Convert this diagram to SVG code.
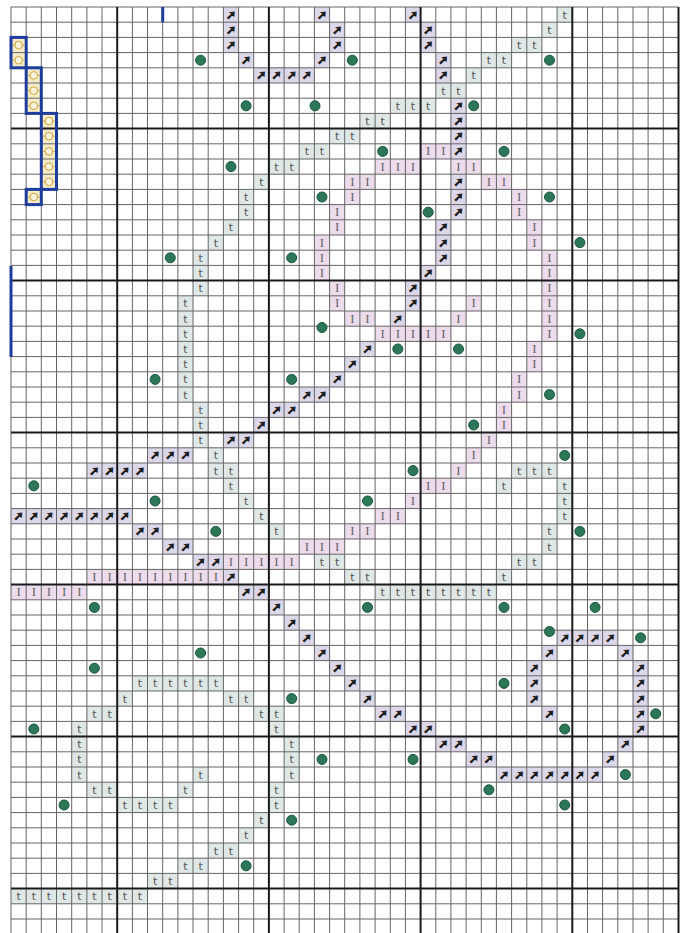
<svg xmlns="http://www.w3.org/2000/svg" xmlns:xlink="http://www.w3.org/1999/xlink" width="689" height="933" viewBox="0 0 689 933">
<style>
.a{fill:#dcd8ea}.i{fill:#eddcec}.t{fill:#dfe8e6}.o{fill:#f4ebc9}
.thin{fill:none;stroke:#656565;stroke-width:1}
.thick{fill:none;stroke:#1a1a1a;stroke-width:2}
.bs{fill:none;stroke:#1d3c9c;stroke-width:3}
.ta{font-family:"DejaVu Sans",sans-serif;font-size:12px;font-weight:bold;fill:#1b1b1b;stroke:#1b1b1b;stroke-width:0.9;text-anchor:middle}
.ti{font-family:"Liberation Serif",serif;font-size:13px;fill:#666;text-anchor:middle}
.tt{font-family:"DejaVu Sans",sans-serif;font-size:11px;fill:#555;text-anchor:middle}
.dot{fill:#2b7757;stroke:#1b5640;stroke-width:1}
</style>
<defs>
<g id="osym"><line x1="-6" y1="0" x2="6" y2="0" stroke="#c9a040" stroke-width="0.8"/><circle r="3.8" fill="#fbf4dc" stroke="#d0a238" stroke-width="1"/></g>
</defs>
<rect width="689" height="933" fill="#fff"/>
<g id="cells" transform="translate(11 7) scale(15.17 15.2)">
<g class="a">
<rect x="14" y="0" width="1" height="3"/><rect x="20" y="0" width="1" height="1"/><rect x="26" y="0" width="1" height="1"/>
<rect x="21" y="1" width="1" height="2"/><rect x="27" y="1" width="1" height="2"/>
<rect x="15" y="3" width="1" height="1"/><rect x="20" y="3" width="1" height="1"/><rect x="28" y="3" width="1" height="2"/>
<rect x="16" y="4" width="4" height="1"/>
<rect x="29" y="6" width="1" height="4"/><rect x="29" y="11" width="1" height="3"/><rect x="28" y="14" width="1" height="3"/>
<rect x="27" y="17" width="1" height="1"/><rect x="26" y="18" width="1" height="2"/><rect x="25" y="20" width="1" height="1"/>
<rect x="23" y="22" width="1" height="1"/><rect x="22" y="23" width="1" height="1"/><rect x="21" y="24" width="1" height="1"/>
<rect x="19" y="25" width="2" height="1"/><rect x="17" y="26" width="2" height="1"/><rect x="16" y="27" width="1" height="1"/>
<rect x="14" y="28" width="2" height="1"/><rect x="9" y="29" width="3" height="1"/><rect x="5" y="30" width="4" height="1"/>
<rect x="0" y="33" width="8" height="1"/><rect x="8" y="34" width="2" height="1"/><rect x="10" y="35" width="2" height="1"/>
<rect x="12" y="36" width="2" height="1"/><rect x="14" y="37" width="1" height="1"/><rect x="15" y="38" width="2" height="1"/>
<rect x="17" y="39" width="1" height="1"/><rect x="18" y="40" width="1" height="1"/><rect x="19" y="41" width="1" height="1"/>
<rect x="36" y="41" width="4" height="1"/><rect x="20" y="42" width="1" height="1"/><rect x="35" y="42" width="1" height="1"/>
<rect x="40" y="42" width="1" height="1"/><rect x="21" y="43" width="1" height="1"/><rect x="34" y="43" width="1" height="3"/>
<rect x="41" y="43" width="1" height="5"/><rect x="22" y="44" width="1" height="1"/><rect x="23" y="45" width="1" height="1"/>
<rect x="24" y="46" width="2" height="1"/><rect x="35" y="46" width="1" height="1"/><rect x="26" y="47" width="2" height="1"/>
<rect x="28" y="48" width="2" height="1"/><rect x="40" y="48" width="1" height="1"/><rect x="30" y="49" width="2" height="1"/>
<rect x="39" y="49" width="1" height="1"/><rect x="32" y="50" width="7" height="1"/>
</g>
<g class="i">
<rect x="27" y="9" width="2" height="1"/><rect x="24" y="10" width="3" height="1"/><rect x="29" y="10" width="2" height="1"/>
<rect x="22" y="11" width="2" height="1"/><rect x="31" y="11" width="2" height="1"/><rect x="22" y="12" width="1" height="1"/>
<rect x="33" y="12" width="1" height="2"/><rect x="21" y="13" width="1" height="2"/><rect x="34" y="14" width="1" height="2"/>
<rect x="20" y="15" width="1" height="3"/><rect x="35" y="16" width="1" height="6"/><rect x="21" y="18" width="1" height="2"/>
<rect x="30" y="19" width="1" height="1"/><rect x="22" y="20" width="2" height="1"/><rect x="29" y="20" width="1" height="1"/>
<rect x="24" y="21" width="5" height="1"/><rect x="34" y="22" width="1" height="2"/><rect x="33" y="24" width="1" height="2"/>
<rect x="32" y="26" width="1" height="2"/><rect x="31" y="28" width="1" height="1"/><rect x="30" y="29" width="1" height="1"/>
<rect x="29" y="30" width="1" height="1"/><rect x="27" y="31" width="2" height="1"/><rect x="26" y="32" width="1" height="1"/>
<rect x="24" y="33" width="2" height="1"/><rect x="22" y="34" width="2" height="1"/><rect x="19" y="35" width="3" height="1"/>
<rect x="14" y="36" width="5" height="1"/><rect x="5" y="37" width="9" height="1"/><rect x="0" y="38" width="5" height="1"/>
</g>
<g class="t">
<rect x="36" y="0" width="1" height="1"/><rect x="35" y="1" width="1" height="1"/><rect x="33" y="2" width="2" height="1"/>
<rect x="31" y="3" width="2" height="1"/><rect x="30" y="4" width="1" height="1"/><rect x="28" y="5" width="2" height="1"/>
<rect x="25" y="6" width="3" height="1"/><rect x="23" y="7" width="2" height="1"/><rect x="21" y="8" width="2" height="1"/>
<rect x="19" y="9" width="2" height="1"/><rect x="17" y="10" width="2" height="1"/><rect x="16" y="11" width="1" height="1"/>
<rect x="15" y="12" width="1" height="2"/><rect x="14" y="14" width="1" height="1"/><rect x="13" y="15" width="1" height="1"/>
<rect x="12" y="16" width="1" height="3"/><rect x="11" y="19" width="1" height="7"/><rect x="12" y="26" width="1" height="3"/>
<rect x="13" y="29" width="1" height="2"/><rect x="14" y="30" width="1" height="2"/><rect x="33" y="30" width="3" height="1"/>
<rect x="32" y="31" width="1" height="1"/><rect x="36" y="31" width="1" height="3"/><rect x="15" y="32" width="1" height="1"/>
<rect x="16" y="33" width="1" height="1"/><rect x="17" y="34" width="1" height="1"/><rect x="35" y="34" width="1" height="2"/>
<rect x="20" y="36" width="2" height="1"/><rect x="33" y="36" width="2" height="1"/><rect x="22" y="37" width="2" height="1"/>
<rect x="32" y="37" width="1" height="1"/><rect x="24" y="38" width="8" height="1"/>
<rect x="8" y="44" width="6" height="1"/><rect x="7" y="45" width="1" height="1"/><rect x="14" y="45" width="2" height="1"/>
<rect x="5" y="46" width="2" height="1"/><rect x="16" y="46" width="2" height="1"/><rect x="4" y="47" width="1" height="4"/>
<rect x="17" y="47" width="1" height="1"/><rect x="18" y="48" width="1" height="3"/><rect x="12" y="50" width="1" height="1"/>
<rect x="5" y="51" width="2" height="1"/><rect x="11" y="51" width="1" height="1"/><rect x="17" y="51" width="1" height="2"/>
<rect x="7" y="52" width="4" height="1"/><rect x="16" y="53" width="1" height="1"/><rect x="15" y="54" width="1" height="1"/>
<rect x="13" y="55" width="2" height="1"/><rect x="11" y="56" width="2" height="1"/><rect x="9" y="57" width="2" height="1"/>
<rect x="0" y="58" width="9" height="1"/>
</g>
<g class="o">
<rect x="0" y="2" width="1" height="2"/><rect x="1" y="4" width="1" height="3"/><rect x="2" y="7" width="1" height="5"/><rect x="1" y="12" width="1" height="1"/>
</g>
</g>
<g id="grid">
<path class="thin" d="M11 7V933M26.2 7V933M41.3 7V933M56.5 7V933M71.7 7V933M86.9 7V933M102 7V933M132.4 7V933M147.5 7V933M162.7 7V933M177.9 7V933M193 7V933M208.2 7V933M223.4 7V933M238.6 7V933M253.7 7V933M284.1 7V933M299.2 7V933M314.4 7V933M329.6 7V933M344.7 7V933M359.9 7V933M375.1 7V933M390.3 7V933M405.4 7V933M435.8 7V933M450.9 7V933M466.1 7V933M481.3 7V933M496.4 7V933M511.6 7V933M526.8 7V933M541.9 7V933M557.1 7V933M587.5 7V933M602.6 7V933M617.8 7V933M633 7V933M648.1 7V933M663.3 7V933
M11 7H678.5M11 22.2H678.5M11 37.4H678.5M11 52.6H678.5M11 67.8H678.5M11 83H678.5M11 98.2H678.5M11 113.4H678.5M11 143.8H678.5M11 159H678.5M11 174.2H678.5M11 189.4H678.5M11 204.6H678.5M11 219.8H678.5M11 235H678.5M11 250.2H678.5M11 265.4H678.5M11 295.8H678.5M11 311H678.5M11 326.2H678.5M11 341.4H678.5M11 356.6H678.5M11 371.8H678.5M11 387H678.5M11 402.2H678.5M11 417.4H678.5M11 447.8H678.5M11 463H678.5M11 478.2H678.5M11 493.4H678.5M11 508.6H678.5M11 523.8H678.5M11 539H678.5M11 554.2H678.5M11 569.4H678.5M11 599.8H678.5M11 615H678.5M11 630.2H678.5M11 645.4H678.5M11 660.6H678.5M11 675.8H678.5M11 691H678.5M11 706.2H678.5M11 721.4H678.5M11 751.8H678.5M11 767H678.5M11 782.2H678.5M11 797.4H678.5M11 812.6H678.5M11 827.8H678.5M11 843H678.5M11 858.2H678.5M11 873.4H678.5M11 903.8H678.5M11 919H678.5"/>
<path class="thick" d="M117.2 7V933M268.9 7V933M420.6 7V933M572.3 7V933M678.5 7V933M11 128.6H678.5M11 280.6H678.5M11 432.6H678.5M11 584.6H678.5M11 736.6H678.5M11 888.6H678.5"/>
</g>
<g id="osymbols">
<use href="#osym" x="18.6" y="45"/><use href="#osym" x="18.6" y="60.2"/>
<use href="#osym" x="33.8" y="75.4"/><use href="#osym" x="33.8" y="90.6"/><use href="#osym" x="33.8" y="105.8"/>
<use href="#osym" x="48.9" y="121"/><use href="#osym" x="48.9" y="136.2"/><use href="#osym" x="48.9" y="151.4"/><use href="#osym" x="48.9" y="166.6"/><use href="#osym" x="48.9" y="181.8"/>
<use href="#osym" x="33.8" y="197"/>
</g>
<g id="backstitch">
<rect class="bs" x="11" y="37.4" width="15.2" height="30.4"/>
<rect class="bs" x="26.2" y="67.8" width="15.1" height="45.6"/>
<rect class="bs" x="41.3" y="113.4" width="15.2" height="76"/>
<rect class="bs" x="26.2" y="189.4" width="15.1" height="15.2"/>
<line class="bs" x1="162.7" y1="7" x2="162.7" y2="22.2"/>
<line class="bs" x1="11" y1="266" x2="11" y2="357" stroke-width="2.5"/>
</g>
<g id="arrows" class="ta">
<text x="231" y="18.5">➚</text><text x="322" y="18.5">➚</text><text x="413" y="18.5">➚</text>
<text x="231" y="33.7">➚</text><text x="337.2" y="33.7">➚</text><text x="428.2" y="33.7">➚</text>
<text x="231" y="48.9">➚</text><text x="337.2" y="48.9">➚</text><text x="428.2" y="48.9">➚</text>
<text x="246.1" y="64.1">➚</text><text x="322" y="64.1">➚</text><text x="443.4" y="64.1">➚</text>
<text x="261.3" y="79.3">➚</text><text x="276.5" y="79.3">➚</text><text x="291.7" y="79.3">➚</text><text x="306.8" y="79.3">➚</text><text x="443.4" y="79.3">➚</text>
<text x="458.5" y="109.7">➚</text><text x="458.5" y="124.9">➚</text><text x="458.5" y="140.1">➚</text><text x="458.5" y="155.3">➚</text>
<text x="458.5" y="185.7">➚</text><text x="458.5" y="200.9">➚</text><text x="458.5" y="216.1">➚</text>
<text x="443.4" y="231.3">➚</text><text x="443.4" y="246.5">➚</text><text x="443.4" y="261.7">➚</text>
<text x="428.2" y="276.9">➚</text><text x="413" y="292.1">➚</text><text x="413" y="307.3">➚</text><text x="397.8" y="322.5">➚</text>
<text x="367.5" y="352.9">➚</text><text x="352.3" y="368.1">➚</text><text x="337.2" y="383.3">➚</text>
<text x="306.8" y="398.5">➚</text><text x="322" y="398.5">➚</text>
<text x="276.5" y="413.7">➚</text><text x="291.7" y="413.7">➚</text>
<text x="261.3" y="428.9">➚</text>
<text x="231" y="444.1">➚</text><text x="246.1" y="444.1">➚</text>
<text x="155.1" y="459.3">➚</text><text x="170.3" y="459.3">➚</text><text x="185.5" y="459.3">➚</text>
<text x="94.4" y="474.5">➚</text><text x="109.6" y="474.5">➚</text><text x="124.8" y="474.5">➚</text><text x="140" y="474.5">➚</text>
<text x="18.6" y="520.1">➚</text><text x="33.8" y="520.1">➚</text><text x="48.9" y="520.1">➚</text><text x="64.1" y="520.1">➚</text><text x="79.3" y="520.1">➚</text><text x="94.4" y="520.1">➚</text><text x="109.6" y="520.1">➚</text><text x="124.8" y="520.1">➚</text>
<text x="140" y="535.3">➚</text><text x="155.1" y="535.3">➚</text>
<text x="170.3" y="550.5">➚</text><text x="185.5" y="550.5">➚</text>
<text x="200.6" y="565.7">➚</text><text x="215.8" y="565.7">➚</text>
<text x="231" y="580.9">➚</text>
<text x="246.1" y="596.1">➚</text><text x="261.3" y="596.1">➚</text>
<text x="276.5" y="611.3">➚</text>
<text x="291.7" y="626.5">➚</text>
<text x="306.8" y="641.7">➚</text><text x="564.7" y="641.7">➚</text><text x="579.9" y="641.7">➚</text><text x="595.1" y="641.7">➚</text><text x="610.2" y="641.7">➚</text>
<text x="322" y="656.9">➚</text><text x="549.5" y="656.9">➚</text><text x="625.4" y="656.9">➚</text>
<text x="337.2" y="672.1">➚</text><text x="534.4" y="672.1">➚</text><text x="640.6" y="672.1">➚</text>
<text x="352.3" y="687.3">➚</text><text x="534.4" y="687.3">➚</text><text x="640.6" y="687.3">➚</text>
<text x="367.5" y="702.5">➚</text><text x="534.4" y="702.5">➚</text><text x="640.6" y="702.5">➚</text>
<text x="382.7" y="717.7">➚</text><text x="397.8" y="717.7">➚</text><text x="549.5" y="717.7">➚</text><text x="640.6" y="717.7">➚</text>
<text x="413" y="732.9">➚</text><text x="428.2" y="732.9">➚</text><text x="640.6" y="732.9">➚</text>
<text x="443.4" y="748.1">➚</text><text x="458.5" y="748.1">➚</text><text x="625.4" y="748.1">➚</text>
<text x="473.7" y="763.3">➚</text><text x="488.9" y="763.3">➚</text><text x="610.2" y="763.3">➚</text>
<text x="504" y="778.5">➚</text><text x="519.2" y="778.5">➚</text><text x="534.4" y="778.5">➚</text><text x="549.5" y="778.5">➚</text><text x="564.7" y="778.5">➚</text><text x="579.9" y="778.5">➚</text><text x="595.1" y="778.5">➚</text>
</g>
<g id="bars" class="ti">
<text x="428.2" y="155.3">I</text><text x="443.4" y="155.3">I</text>
<text x="382.7" y="170.5">I</text><text x="397.8" y="170.5">I</text><text x="413" y="170.5">I</text><text x="458.5" y="170.5">I</text><text x="473.7" y="170.5">I</text>
<text x="352.3" y="185.7">I</text><text x="367.5" y="185.7">I</text><text x="488.9" y="185.7">I</text><text x="504" y="185.7">I</text>
<text x="352.3" y="200.9">I</text><text x="519.2" y="200.9">I</text>
<text x="337.2" y="216.1">I</text><text x="519.2" y="216.1">I</text>
<text x="337.2" y="231.3">I</text><text x="534.4" y="231.3">I</text>
<text x="322" y="246.5">I</text><text x="534.4" y="246.5">I</text>
<text x="322" y="261.7">I</text><text x="549.5" y="261.7">I</text>
<text x="322" y="276.9">I</text><text x="549.5" y="276.9">I</text>
<text x="337.2" y="292.1">I</text><text x="549.5" y="292.1">I</text>
<text x="337.2" y="307.3">I</text><text x="473.7" y="307.3">I</text><text x="549.5" y="307.3">I</text>
<text x="352.3" y="322.5">I</text><text x="367.5" y="322.5">I</text><text x="458.5" y="322.5">I</text><text x="549.5" y="322.5">I</text>
<text x="382.7" y="337.7">I</text><text x="397.8" y="337.7">I</text><text x="413" y="337.7">I</text><text x="428.2" y="337.7">I</text><text x="443.4" y="337.7">I</text><text x="549.5" y="337.7">I</text>
<text x="534.4" y="352.9">I</text><text x="534.4" y="368.1">I</text>
<text x="519.2" y="383.3">I</text><text x="519.2" y="398.5">I</text>
<text x="504" y="413.7">I</text><text x="504" y="428.9">I</text>
<text x="488.9" y="444.1">I</text><text x="473.7" y="459.3">I</text><text x="458.5" y="474.5">I</text>
<text x="428.2" y="489.7">I</text><text x="443.4" y="489.7">I</text>
<text x="413" y="504.9">I</text>
<text x="382.7" y="520.1">I</text><text x="397.8" y="520.1">I</text>
<text x="352.3" y="535.3">I</text><text x="367.5" y="535.3">I</text>
<text x="306.8" y="550.5">I</text><text x="322" y="550.5">I</text><text x="337.2" y="550.5">I</text>
<text x="231" y="565.7">I</text><text x="246.1" y="565.7">I</text><text x="261.3" y="565.7">I</text><text x="276.5" y="565.7">I</text><text x="291.7" y="565.7">I</text>
<text x="94.4" y="580.9">I</text><text x="109.6" y="580.9">I</text><text x="124.8" y="580.9">I</text><text x="140" y="580.9">I</text><text x="155.1" y="580.9">I</text><text x="170.3" y="580.9">I</text><text x="185.5" y="580.9">I</text><text x="200.6" y="580.9">I</text><text x="215.8" y="580.9">I</text>
<text x="18.6" y="596.1">I</text><text x="33.8" y="596.1">I</text><text x="48.9" y="596.1">I</text><text x="64.1" y="596.1">I</text><text x="79.3" y="596.1">I</text>
</g>
<g id="tees" class="tt">
<text x="564.7" y="18.5">t</text><text x="549.5" y="33.7">t</text>
<text x="519.2" y="48.9">t</text><text x="534.4" y="48.9">t</text>
<text x="488.9" y="64.1">t</text><text x="504" y="64.1">t</text>
<text x="473.7" y="79.3">t</text>
<text x="443.4" y="94.5">t</text><text x="458.5" y="94.5">t</text>
<text x="397.8" y="109.7">t</text><text x="413" y="109.7">t</text><text x="428.2" y="109.7">t</text>
<text x="367.5" y="124.9">t</text><text x="382.7" y="124.9">t</text>
<text x="337.2" y="140.1">t</text><text x="352.3" y="140.1">t</text>
<text x="306.8" y="155.3">t</text><text x="322" y="155.3">t</text>
<text x="276.5" y="170.5">t</text><text x="291.7" y="170.5">t</text>
<text x="261.3" y="185.7">t</text>
<text x="246.1" y="200.9">t</text><text x="246.1" y="216.1">t</text>
<text x="231" y="231.3">t</text><text x="215.8" y="246.5">t</text>
<text x="200.6" y="261.7">t</text><text x="200.6" y="276.9">t</text><text x="200.6" y="292.1">t</text>
<text x="185.5" y="307.3">t</text><text x="185.5" y="322.5">t</text><text x="185.5" y="337.7">t</text><text x="185.5" y="352.9">t</text><text x="185.5" y="368.1">t</text><text x="185.5" y="383.3">t</text><text x="185.5" y="398.5">t</text>
<text x="200.6" y="413.7">t</text><text x="200.6" y="428.9">t</text><text x="200.6" y="444.1">t</text>
<text x="215.8" y="459.3">t</text>
<text x="215.8" y="474.5">t</text><text x="231" y="474.5">t</text><text x="519.2" y="474.5">t</text><text x="534.4" y="474.5">t</text><text x="549.5" y="474.5">t</text>
<text x="231" y="489.7">t</text><text x="504" y="489.7">t</text><text x="564.7" y="489.7">t</text>
<text x="246.1" y="504.9">t</text><text x="564.7" y="504.9">t</text>
<text x="261.3" y="520.1">t</text><text x="564.7" y="520.1">t</text>
<text x="276.5" y="535.3">t</text><text x="549.5" y="535.3">t</text>
<text x="549.5" y="550.5">t</text>
<text x="322" y="565.7">t</text><text x="337.2" y="565.7">t</text><text x="519.2" y="565.7">t</text><text x="534.4" y="565.7">t</text>
<text x="352.3" y="580.9">t</text><text x="367.5" y="580.9">t</text><text x="504" y="580.9">t</text>
<text x="382.7" y="596.1">t</text><text x="397.8" y="596.1">t</text><text x="413" y="596.1">t</text><text x="428.2" y="596.1">t</text><text x="443.4" y="596.1">t</text><text x="458.5" y="596.1">t</text><text x="473.7" y="596.1">t</text><text x="488.9" y="596.1">t</text>
<text x="140" y="687.3">t</text><text x="155.1" y="687.3">t</text><text x="170.3" y="687.3">t</text><text x="185.5" y="687.3">t</text><text x="200.6" y="687.3">t</text><text x="215.8" y="687.3">t</text>
<text x="124.8" y="702.5">t</text><text x="231" y="702.5">t</text><text x="246.1" y="702.5">t</text>
<text x="94.4" y="717.7">t</text><text x="109.6" y="717.7">t</text><text x="261.3" y="717.7">t</text><text x="276.5" y="717.7">t</text>
<text x="79.3" y="732.9">t</text><text x="276.5" y="732.9">t</text>
<text x="79.3" y="748.1">t</text><text x="291.7" y="748.1">t</text>
<text x="79.3" y="763.3">t</text><text x="291.7" y="763.3">t</text>
<text x="79.3" y="778.5">t</text><text x="200.6" y="778.5">t</text><text x="291.7" y="778.5">t</text>
<text x="94.4" y="793.7">t</text><text x="109.6" y="793.7">t</text><text x="185.5" y="793.7">t</text><text x="276.5" y="793.7">t</text>
<text x="124.8" y="808.9">t</text><text x="140" y="808.9">t</text><text x="155.1" y="808.9">t</text><text x="170.3" y="808.9">t</text><text x="276.5" y="808.9">t</text>
<text x="261.3" y="824.1">t</text>
<text x="246.1" y="839.3">t</text>
<text x="215.8" y="854.5">t</text><text x="231" y="854.5">t</text>
<text x="185.5" y="869.7">t</text><text x="200.6" y="869.7">t</text>
<text x="155.1" y="884.9">t</text><text x="170.3" y="884.9">t</text>
<text x="18.6" y="900.1">t</text><text x="33.8" y="900.1">t</text><text x="48.9" y="900.1">t</text><text x="64.1" y="900.1">t</text><text x="79.3" y="900.1">t</text><text x="94.4" y="900.1">t</text><text x="109.6" y="900.1">t</text><text x="124.8" y="900.1">t</text><text x="140" y="900.1">t</text>
</g>
<g id="knots" class="dot">
<circle cx="200.6" cy="60.2" r="5"/><circle cx="352.3" cy="60.2" r="5"/><circle cx="549.5" cy="60.2" r="5"/>
<circle cx="246.1" cy="105.8" r="5"/><circle cx="315" cy="105.8" r="5"/><circle cx="473.7" cy="105.8" r="5"/>
<circle cx="382.7" cy="151.4" r="5"/><circle cx="504" cy="151.4" r="5"/><circle cx="231" cy="166.6" r="5"/>
<circle cx="549.5" cy="197" r="5"/><circle cx="322" cy="197" r="5"/><circle cx="428.2" cy="212.2" r="5"/>
<circle cx="579.9" cy="242.6" r="5"/><circle cx="170.3" cy="257.8" r="5"/><circle cx="291.7" cy="257.8" r="5"/>
<circle cx="322" cy="327.5" r="5"/><circle cx="397.8" cy="349" r="5"/><circle cx="458.5" cy="349" r="5"/>
<circle cx="579.9" cy="333.8" r="5"/><circle cx="155.1" cy="379.4" r="5"/><circle cx="291.7" cy="379.4" r="5"/>
<circle cx="549.5" cy="394.6" r="5"/><circle cx="473.7" cy="425" r="5"/><circle cx="413" cy="470.6" r="5"/>
<circle cx="564.7" cy="455.4" r="5"/><circle cx="33.8" cy="485.8" r="5"/><circle cx="155.1" cy="501" r="5"/>
<circle cx="367.5" cy="501" r="5"/><circle cx="215.8" cy="531.4" r="5"/><circle cx="579.9" cy="531.4" r="5"/>
<circle cx="94.4" cy="607.4" r="5"/><circle cx="367.5" cy="607.4" r="5"/><circle cx="504" cy="607.4" r="5"/>
<circle cx="595.1" cy="607.4" r="5"/><circle cx="549.5" cy="631.5" r="5"/><circle cx="640.6" cy="637.8" r="5"/>
<circle cx="200.6" cy="653" r="5"/><circle cx="94.4" cy="668.2" r="5"/><circle cx="504" cy="683.4" r="5"/>
<circle cx="291.7" cy="698.6" r="5"/><circle cx="655.7" cy="713.8" r="5"/><circle cx="33.8" cy="729" r="5"/>
<circle cx="564.7" cy="729" r="5"/><circle cx="322" cy="759.4" r="5"/><circle cx="413" cy="759.4" r="5"/>
<circle cx="625.4" cy="774.6" r="5"/><circle cx="488.9" cy="789.8" r="5"/><circle cx="64.1" cy="805" r="5"/>
<circle cx="564.7" cy="805" r="5"/><circle cx="291.7" cy="820.2" r="5"/><circle cx="246.1" cy="865.8" r="5"/>
</g>
</svg>
